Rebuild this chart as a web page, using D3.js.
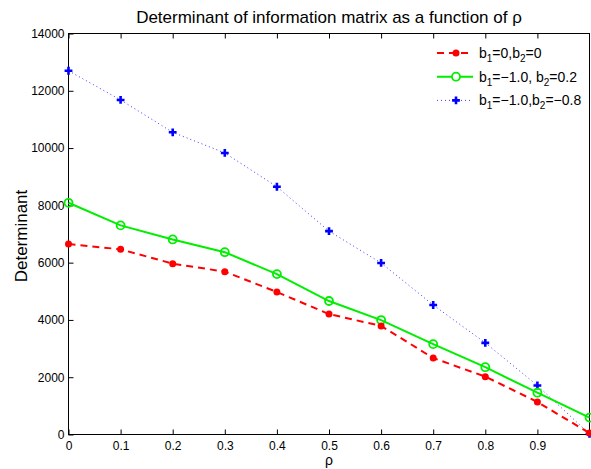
<!DOCTYPE html>
<html>
<head>
<meta charset="utf-8">
<script src="https://cdn.jsdelivr.net/npm/d3@7"></script>
<style>
  body { margin: 0; background: #fff; }
  svg { font-family: "Liberation Sans", Arial, sans-serif; }
</style>
</head>
<body>
<div id="chart"></div>
<script>
// data
var rho = [0, 0.1, 0.2, 0.3, 0.4, 0.5, 0.6, 0.7, 0.8, 0.9, 1.0];
var detA = [6650, 6465, 5965, 5685, 4975, 4205, 3790, 2670, 2020, 1135, 50];   // b1=0,b2=0
var detB = [8090, 7300, 6810, 6365, 5600, 4660, 3995, 3155, 2350, 1460, 590];  // b1=-1.0, b2=0.2
var detC = [12700, 11680, 10550, 9830, 8650, 7100, 5990, 4520, 3200, 1710, 20]; // b1=-1.0,b2=-0.8
var xTicks = [0, 0.1, 0.2, 0.3, 0.4, 0.5, 0.6, 0.7, 0.8, 0.9];
var yTicks = [0, 2000, 4000, 6000, 8000, 10000, 12000, 14000];

var svgWidth = 591, svgHeight = 469;
var margin = { top: 33.5, right: 1.5, bottom: 34.5, left: 68.5 };
var chartWidth = svgWidth - margin.left - margin.right;
var chartHeight = svgHeight - margin.top - margin.bottom;

var svg = d3.select("#chart").append("svg")
  .attr("width", svgWidth)
  .attr("height", svgHeight);

var chartGroup = svg.append("g")
  .attr("transform", `translate(${margin.left}, ${margin.top})`);

var x = d3.scaleLinear().domain([0, 1]).range([0, chartWidth]);
var y = d3.scaleLinear().domain([0, 14000]).range([chartHeight, 0]);

// axes, ticks point inward
var bottomAxis = d3.axisBottom(x).tickValues(xTicks).tickSize(-5).tickPadding(7)
  .tickFormat(d => d === 0 ? "0" : d3.format(".1f")(d));
var leftAxis = d3.axisLeft(y).tickValues(yTicks).tickSize(-5).tickPadding(4)
  .tickFormat(d3.format("d"));
var topAxis = d3.axisTop(x).tickValues(xTicks).tickSize(-5).tickFormat("");

function styleAxis(g) {
  g.select(".domain").remove();
  g.selectAll("line").attr("stroke", "#000").attr("stroke-width", 1);
  g.selectAll("text").attr("fill", "#000").style("font-size", "12px")
    .style("font-family", "'Liberation Sans', Arial, sans-serif");
}

chartGroup.append("g").attr("transform", `translate(0, ${chartHeight})`).call(bottomAxis).call(styleAxis);
chartGroup.append("g").call(leftAxis).call(styleAxis);
chartGroup.append("g").call(topAxis).call(styleAxis);
// left ticks are drawn inward, so shift the labels back next to the axis
chartGroup.selectAll("g").filter(function() { return !this.getAttribute("transform"); })
  .selectAll(".tick text").attr("x", -4);

// frame
chartGroup.append("rect")
  .attr("x", 0).attr("y", 0)
  .attr("width", chartWidth).attr("height", chartHeight)
  .attr("fill", "none").attr("stroke", "#000").attr("stroke-width", 1);

var line = d3.line().x((d, i) => x(rho[i])).y(d => y(d));

// blue dotted
chartGroup.append("path").datum(detC)
  .attr("d", line).attr("fill", "none")
  .attr("stroke", "#3b3bff").attr("stroke-width", 1).attr("stroke-dasharray", "1,3");
chartGroup.selectAll(".plusC").data(detC).enter().append("path")
  .attr("d", d3.symbol(d3.symbolCross, 34)())
  .attr("transform", (d, i) => `translate(${x(rho[i])}, ${y(d)})`)
  .attr("fill", "#0000ff");

// green solid
chartGroup.append("path").datum(detB)
  .attr("d", line).attr("fill", "none")
  .attr("stroke", "#00ee00").attr("stroke-width", 2);
chartGroup.selectAll(".circB").data(detB).enter().append("circle")
  .attr("cx", (d, i) => x(rho[i])).attr("cy", d => y(d)).attr("r", 4)
  .attr("fill", "none").attr("stroke", "#00ee00").attr("stroke-width", 1.8);

// red dashed
chartGroup.append("path").datum(detA)
  .attr("d", line).attr("fill", "none")
  .attr("stroke", "#ff0000").attr("stroke-width", 2).attr("stroke-dasharray", "7,5");
chartGroup.selectAll(".dotA").data(detA).enter().append("circle")
  .attr("cx", (d, i) => x(rho[i])).attr("cy", d => y(d)).attr("r", 3.5)
  .attr("fill", "#ff0000");

// legend
var legend = svg.append("g").attr("transform", "translate(437, 53)");
var rows = [
  { color: "#ff0000", dash: "7,5", width: 2, mark: "dot", t: ["=0,b", "=0"] },
  { color: "#00ee00", dash: null, width: 2, mark: "circle", t: ["=\u22121.0, b", "=0.2"] },
  { color: "#3b3bff", dash: "1,3", width: 1, mark: "plus", t: ["=\u22121.0,b", "=\u22120.8"] }
];
rows.forEach(function(r, i) {
  var g = legend.append("g").attr("transform", `translate(0, ${i * 23.7})`);
  g.append("line").attr("x1", 0).attr("x2", 36).attr("y1", 0).attr("y2", 0)
    .attr("stroke", r.color).attr("stroke-width", r.width)
    .attr("stroke-dasharray", r.dash);
  if (r.mark === "dot") {
    g.append("circle").attr("cx", 19).attr("cy", 0).attr("r", 3.5).attr("fill", r.color);
  } else if (r.mark === "circle") {
    g.append("circle").attr("cx", 19).attr("cy", 0).attr("r", 4)
      .attr("fill", "#fff").attr("stroke", r.color).attr("stroke-width", 1.8);
  } else {
    g.append("path").attr("d", d3.symbol(d3.symbolCross, 34)())
      .attr("transform", "translate(19,0)").attr("fill", "#0000ff");
  }
  var txt = g.append("text").attr("x", 42).attr("y", 5).style("font-size", "14px").attr("fill", "#000");
  txt.append("tspan").text("b");
  txt.append("tspan").attr("dy", 4).style("font-size", "10px").text("1");
  txt.append("tspan").attr("dy", -4).text(r.t[0]);
  txt.append("tspan").attr("dy", 4).style("font-size", "10px").text("2");
  txt.append("tspan").attr("dy", -4).text(r.t[1]);
});

// title and axis labels
svg.append("text")
  .attr("x", margin.left + chartWidth / 2).attr("y", 23)
  .attr("text-anchor", "middle").style("font-size", "17px")
  .text("Determinant of information matrix as a function of \u03c1");

svg.append("text")
  .attr("transform", "rotate(-90)")
  .attr("x", -236).attr("y", 27)
  .attr("text-anchor", "middle").style("font-size", "17px")
  .text("Determinant");

svg.append("text")
  .attr("x", margin.left + chartWidth / 2).attr("y", 465)
  .attr("text-anchor", "middle").style("font-size", "14px")
  .text("\u03c1");
</script>
</body>
</html>
